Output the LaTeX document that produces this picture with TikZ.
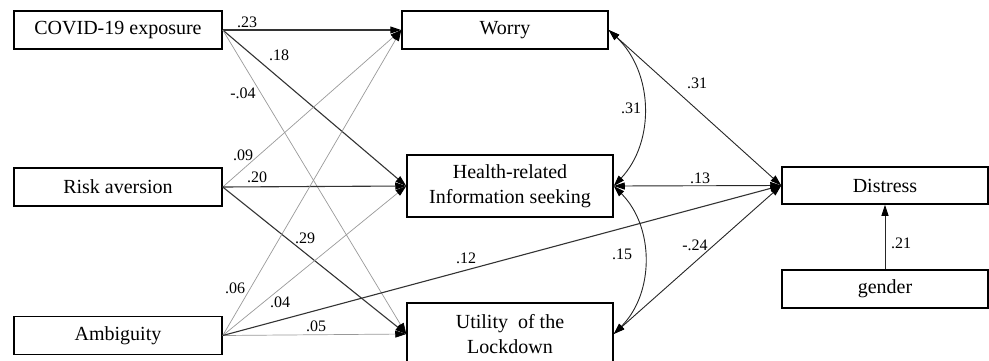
\documentclass[tikz,border=0pt]{standalone}
\usepackage{fontspec}
\setmainfont{Liberation Serif}
\usetikzlibrary{arrows.meta, positioning}

\begin{document}
\begin{tikzpicture}[x=1pt, y=-1pt, >={Triangle[length=11pt, width=7pt, color=black]},
    box/.style={draw, line width=1.5pt, minimum width=206pt, inner sep=0pt, align=center, font=\fontsize{20}{25}\selectfont},
    coef/.style={inner sep=0pt, font=\fontsize{16}{18}\selectfont},
    strong/.style={->, line width=1.1pt, black!80},
    weak/.style={->, line width=0.7pt, black!40},
    corr/.style={<->, line width=0.9pt, black!85}]
        \useasboundingbox (0,0) rectangle (989,360);

        % Nodes
        \node[box, minimum width=208pt, minimum height=38pt] (covid) at (118,30) {COVID-19 exposure};
        \node[box, minimum width=208pt, minimum height=38pt] (risk) at (118,187) {Risk aversion};
        \node[box, minimum width=208pt, minimum height=38pt] (ambig) at (118,335.5) {Ambiguity};
        \node[box, minimum height=38pt] (worry) at (505,30) {Worry};
        \node[box, minimum height=62pt] (health) at (510,186) {Health-related\\Information seeking};
        \node[box, minimum height=62pt] (utility) at (510,334) {Utility~ of the\\Lockdown};
        \node[box, minimum height=37pt] (distress) at (885,185.5) {Distress};
        \node[box, minimum height=38pt] (gender) at (885,289) {gender};

        % Directed edges
        \draw[strong] (covid.east) -- (worry.west);
        \draw[strong] (covid.east) -- (health.west);
        \draw[weak] (covid.east) -- (utility.west);
        \draw[weak] (risk.east) -- (worry.west);
        \draw[strong] (risk.east) -- (health.west);
        \draw[strong] (risk.east) -- (utility.west);
        \draw[weak] (ambig.east) -- (worry.west);
        \draw[weak] (ambig.east) -- (health.west);
        \draw[weak] (ambig.east) -- (utility.west);
        \draw[strong] (ambig.east) -- (distress.west);
        \draw[->, line width=0.8pt, black!85] (gender.north) -- (distress.south);

        % Correlations
        \draw[corr] (worry.east) -- (distress.west);
        \draw[corr] (health.east) -- (distress.west);
        \draw[corr] (utility.east) -- (distress.west);
        \draw[corr] (worry.east) to[bend left=45] (health.east);
        \draw[corr] (health.east) to[bend left=45] (utility.east);

        % Coefficients
        \node[coef] (c1) at (247,22) {.23};
        \node[coef] (c2) at (279,55) {.18};
        \node[coef] (c3) at (243,93) {-.04};
        \node[coef] (c4) at (243,155) {.09};
        \node[coef] (c5) at (257,177) {.20};
        \node[coef] (c6) at (305,238) {.29};
        \node[coef] (c7) at (235,288) {.06};
        \node[coef] (c8) at (280,302) {.04};
        \node[coef] (c9) at (316,326) {.05};
        \node[coef] (c10) at (466,258) {.12};
        \node[coef] (c11) at (697,83) {.31};
        \node[coef] (c12) at (631,108) {.31};
        \node[coef] (c13) at (700,178) {.13};
        \node[coef] (c14) at (695,245) {-.24};
        \node[coef] (c15) at (622,254) {.15};
        \node[coef] (c16) at (901,243) {.21};
    \end{tikzpicture}
\end{document}
